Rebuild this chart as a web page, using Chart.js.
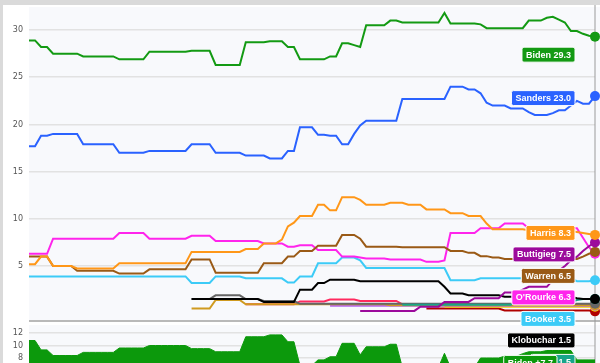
<!DOCTYPE html>
<html>
<head>
<meta charset="utf-8">
<script src="https://cdn.jsdelivr.net/npm/chart.js@4.4.1/dist/chart.umd.min.js"></script>
<style>
  html, body { margin: 0; padding: 0; overflow: hidden; background: #dadada; }
  #panel { position: absolute; left: 3px; top: 5px; width: 597px; height: 358px; background: #fff; }
  #wrap { position: absolute; left: 0; top: 0; width: 600px; height: 410px; }
</style>
</head>
<body>
<div id="panel"></div>
<div id="wrap"><canvas id="polls"></canvas></div>
<script>
// poll averages, one value per sample along the time axis
const biden = [
  28.9, 28.9, 28.2, 28.2, 27.5, 27.5, 27.5, 27.5, 27.5, 27.2,
  27.2, 27.2, 27.2, 27.2, 27.2, 26.9, 26.9, 26.9, 26.9, 26.9,
  27.7, 27.7, 27.7, 27.7, 27.7, 27.7, 27.7, 27.8, 27.8, 27.8,
  27.8, 26.3, 26.3, 26.3, 26.3, 26.3, 28.7, 28.7, 28.7, 28.7,
  28.8, 28.8, 28.8, 28.2, 28.2, 26.9, 26.9, 26.9, 26.9, 26.9,
  27.2, 27.2, 28.6, 28.6, 28.4, 28.2, 30.5, 30.5, 30.5, 30.5,
  31.0, 31.0, 30.8, 30.8, 30.8, 30.8, 30.8, 30.8, 30.8, 31.8,
  30.7, 30.7, 30.7, 30.7, 30.7, 30.6, 30.2, 30.2, 30.2, 30.2,
  30.2, 30.2, 30.2, 31.0, 31.0, 31.0, 31.3, 31.4, 31.1, 30.8,
  29.9, 29.9, 29.6, 29.4, 29.3
];
const sanders = [
  17.7, 17.7, 18.8, 18.8, 19.0, 19.0, 19.0, 19.0, 19.0, 17.9,
  17.9, 17.9, 17.9, 17.9, 17.9, 17.0, 17.0, 17.0, 17.0, 17.0,
  17.2, 17.2, 17.2, 17.2, 17.2, 17.2, 17.2, 17.9, 17.9, 17.9,
  17.9, 17.0, 17.0, 17.0, 17.0, 17.0, 16.7, 16.7, 16.7, 16.7,
  16.4, 16.4, 16.4, 17.2, 17.2, 19.7, 19.7, 19.7, 18.9, 18.9,
  18.8, 18.8, 17.9, 17.9, 19.0, 19.9, 20.4, 20.4, 20.4, 20.4,
  20.4, 20.4, 22.7, 22.7, 22.7, 22.7, 22.7, 22.7, 22.7, 22.7,
  24.0, 24.0, 24.0, 23.7, 23.7, 23.3, 22.3, 22.0, 22.0, 22.0,
  21.7, 21.7, 21.7, 21.3, 21.0, 21.0, 21.0, 21.2, 21.5, 21.5,
  22.0, 22.5, 22.2, 22.2, 23.0
];
const harris = [
  5.2, 5.2, 6.0, 6.0, 5.0, 5.0, 5.0, 5.0, 4.75, 4.75,
  4.75, 4.75, 4.75, 4.75, 4.75, 5.3, 5.3, 5.3, 5.3, 5.3,
  5.3, 5.3, 5.3, 5.3, 5.3, 5.3, 5.3, 6.5, 6.5, 6.5,
  6.5, 6.5, 6.5, 6.5, 6.5, 6.5, 6.8, 6.8, 6.8, 7.4,
  7.4, 7.4, 7.8, 9.2, 9.6, 10.3, 10.3, 10.3, 11.5, 11.5,
  10.9, 10.9, 12.3, 12.3, 12.3, 12.0, 11.5, 11.5, 11.5, 11.5,
  11.7, 11.7, 11.7, 11.5, 11.5, 11.5, 11.0, 11.0, 11.0, 11.0,
  10.6, 10.6, 10.6, 10.3, 10.3, 10.3, 9.5, 8.9, 8.9, 8.9,
  8.9, 8.9, 8.9, 8.8, 8.8, 8.8, 8.8, 8.7, 8.7, 8.7,
  8.7, 8.6, 8.5, 8.4, 8.3
];
const buttigieg = [
  null, null, null, null, null, null, null, null, null, null,
  null, null, null, null, null, null, null, null, null, null,
  null, null, null, null, null, null, null, null, null, null,
  null, null, null, null, null, null, null, null, null, null,
  null, null, null, null, null, null, null, null, null, null,
  null, null, null, null, null, 0.25, 0.25, 0.25, 0.25, 0.25,
  0.25, 0.25, 0.25, 0.25, 0.25, 0.7, 0.7, 0.7, 0.7, 1.2,
  1.2, 1.2, 1.2, 1.2, 1.6, 1.6, 1.6, 1.6, 1.6, 2.2,
  2.2, 2.2, 2.5, 2.8, 2.8, 2.8, 2.8, 3.5, 4.5, 5.0,
  5.6, 6.0, 6.6, 7.1, 7.5
];
const warren = [
  6.0, 6.0, 6.0, 6.0, 5.0, 5.0, 5.0, 5.0, 4.5, 4.5,
  4.5, 4.5, 4.5, 4.5, 4.5, 4.2, 4.2, 4.2, 4.2, 4.2,
  4.65, 4.65, 4.65, 4.65, 4.65, 4.65, 4.65, 5.7, 5.7, 5.7,
  5.7, 4.3, 4.3, 4.3, 4.3, 4.3, 4.3, 4.3, 4.3, 5.3,
  5.3, 5.3, 5.3, 6.0, 6.0, 6.6, 6.6, 6.6, 7.15, 7.15,
  7.15, 7.15, 8.3, 8.3, 8.3, 7.9, 7.05, 7.05, 7.05, 7.05,
  7.05, 7.05, 7.0, 7.0, 7.0, 7.0, 7.0, 7.0, 7.0, 7.0,
  6.6, 6.6, 6.6, 6.4, 6.4, 6.05, 6.05, 5.9, 5.9, 5.75,
  5.75, 5.75, 5.75, 5.75, 5.75, 5.75, 5.75, 5.75, 5.75, 5.75,
  5.75, 5.75, 6.0, 6.3, 6.5
];
const orourke = [
  6.3, 6.3, 6.3, 6.3, 7.9, 7.9, 7.9, 7.9, 7.9, 7.9,
  7.9, 7.9, 7.9, 7.9, 7.9, 8.5, 8.5, 8.5, 8.5, 8.5,
  7.9, 7.9, 7.9, 7.9, 7.9, 7.9, 7.9, 8.2, 8.2, 8.2,
  8.2, 7.65, 7.65, 7.65, 7.65, 7.65, 7.65, 7.65, 7.65, 7.4,
  7.4, 7.4, 7.4, 7.05, 7.05, 7.2, 7.2, 7.2, 6.7, 6.7,
  6.7, 6.7, 6.0, 6.0, 6.0, 5.9, 5.8, 5.8, 5.8, 5.8,
  5.7, 5.7, 5.7, 5.7, 5.7, 5.7, 5.45, 5.45, 5.45, 5.6,
  8.5, 8.5, 8.5, 8.5, 8.5, 9.0, 9.0, 9.0, 9.0, 9.5,
  9.5, 9.5, 9.5, 9.0, 9.0, 9.0, 9.0, 9.0, 9.0, 9.0,
  9.0, 9.0, 8.0, 7.0, 6.3
];
const booker = [
  3.9, 3.9, 3.9, 3.9, 3.9, 3.9, 3.9, 3.9, 3.9, 3.9,
  3.9, 3.9, 3.9, 3.9, 3.9, 3.9, 3.9, 3.9, 3.9, 3.9,
  3.9, 3.9, 3.9, 3.9, 3.9, 3.9, 3.9, 3.2, 3.2, 3.2,
  3.2, 3.9, 3.9, 3.9, 3.9, 3.9, 3.7, 3.7, 3.7, 3.7,
  3.7, 3.7, 3.7, 3.25, 3.25, 3.9, 3.9, 3.9, 5.3, 5.3,
  5.3, 5.3, 5.9, 5.9, 5.9, 5.6, 4.8, 4.8, 4.8, 4.8,
  4.8, 4.8, 4.8, 4.8, 4.8, 4.8, 4.8, 4.8, 4.8, 4.8,
  3.5, 3.5, 3.5, 3.5, 3.5, 3.7, 3.7, 3.7, 3.7, 3.7,
  3.7, 3.7, 3.7, 3.7, 3.7, 3.7, 3.7, 3.7, 3.7, 3.7,
  3.7, 3.4, 3.4, 3.4, 3.5
];
const klobuchar = [
  null, null, null, null, null, null, null, null, null, null,
  null, null, null, null, null, null, null, null, null, null,
  null, null, null, null, null, null, null, 1.5, 1.5, 1.5,
  1.5, 1.5, 1.5, 1.5, 1.5, 1.5, 1.5, 1.5, 1.5, 1.2,
  1.2, 1.2, 1.2, 1.2, 1.2, 2.5, 2.5, 2.5, 3.2, 3.2,
  3.55, 3.55, 3.55, 3.55, 3.55, 3.4, 3.4, 3.4, 3.4, 3.4,
  3.4, 3.4, 3.4, 3.4, 3.4, 3.4, 3.4, 3.4, 3.4, 2.8,
  2.1, 2.1, 2.1, 1.9, 1.9, 1.9, 1.9, 1.9, 1.9, 1.75,
  1.75, 1.75, 1.75, 1.75, 1.75, 1.75, 1.75, 1.75, 1.75, 1.75,
  1.75, 1.6, 1.5, 1.5, 1.5
];
const yang = [
  null, null, null, null, null, null, null, null, null, null,
  null, null, null, null, null, null, null, null, null, null,
  null, null, null, null, null, null, null, null, null, null,
  null, null, null, null, null, null, null, null, null, null,
  null, null, null, null, null, null, null, null, null, null,
  null, null, null, null, null, null, null, null, null, null,
  null, null, 0.9, 0.9, 0.9, 0.9, 0.9, 0.9, 0.9, 0.9,
  0.9, 0.9, 0.9, 0.9, 0.9, 0.9, 0.9, 0.9, 0.9, 0.9,
  0.9, 1.2, 1.2, 1.2, 1.2, 1.2, 1.2, 1.2, 1.2, 1.2,
  1.2, 1.4, 1.5, 1.5, 1.5
];
const gillibrand = [
  null, null, null, null, null, null, null, null, null, null,
  null, null, null, null, null, null, null, null, null, null,
  null, null, null, null, null, null, null, 1.5, 1.5, 1.5,
  1.5, 1.9, 1.9, 1.9, 1.9, 1.9, 1.5, 1.5, 1.5, 1.3,
  1.3, 1.3, 1.3, 1.3, 1.3, 1.0, 1.0, 1.0, 1.0, 1.0,
  1.0, 1.0, 1.0, 1.0, 1.0, 1.0, 1.0, 1.0, 1.0, 1.0,
  1.0, 1.0, 1.0, 1.0, 1.0, 1.0, 1.0, 1.0, 1.0, 1.0,
  1.0, 1.0, 1.0, 1.0, 1.0, 1.0, 1.0, 1.0, 1.0, 1.0,
  1.0, 1.0, 1.0, 1.0, 1.0, 1.0, 1.0, 1.0, 1.0, 1.0,
  1.0, 1.0, 1.0, 1.0, 1.0
];
const castro = [
  null, null, null, null, null, null, null, null, null, null,
  null, null, null, null, null, null, null, null, null, null,
  null, null, null, null, null, null, null, 0.5, 0.5, 0.5,
  0.5, 1.4, 1.4, 1.4, 1.4, 1.4, 0.95, 0.95, 0.95, 0.95,
  0.95, 0.95, 0.95, 0.95, 0.95, 0.95, 0.95, 0.95, 0.95, 0.95,
  0.95, 0.95, 0.95, 0.95, 0.95, 0.95, 0.95, 0.95, 0.95, 0.95,
  0.85, 0.85, 0.85, 0.85, 0.85, 0.85, 0.85, 0.85, 0.85, 0.85,
  0.85, 0.85, 0.85, 0.85, 0.85, 0.85, 0.85, 0.85, 0.85, 0.85,
  0.85, 0.85, 0.85, 0.85, 0.85, 0.85, 0.85, 0.85, 0.85, 0.85,
  0.85, 0.85, 0.85, 0.85, 0.85
];
const gabbard = [
  null, null, null, null, null, null, null, null, null, null,
  null, null, null, null, null, null, null, null, null, null,
  null, null, null, null, null, null, null, null, null, null,
  null, null, null, null, null, null, 0.95, 0.95, 0.95, 0.95,
  0.95, 0.95, 0.95, 0.95, 0.95, 1.25, 1.25, 1.25, 1.25, 1.25,
  1.45, 1.45, 1.45, 1.45, 1.45, 1.3, 1.3, 1.3, 1.3, 1.3,
  1.3, 1.3, 0.95, 0.95, 0.95, 0.95, 0.95, 0.95, 0.95, 0.95,
  0.95, 0.95, 0.95, 0.95, 0.95, 0.95, 0.95, 0.95, 0.95, 0.95,
  0.95, 0.95, 0.95, 0.95, 0.95, 0.95, 0.95, 0.95, 0.95, 0.95,
  0.95, 0.9, 0.9, 0.9, 0.9
];
const inslee = [
  null, null, null, null, null, null, null, null, null, null,
  null, null, null, null, null, null, null, null, null, null,
  null, null, null, null, null, null, null, null, null, null,
  null, null, null, null, null, null, null, null, null, null,
  null, null, null, null, null, null, null, null, null, null,
  0.8, 0.8, 0.8, 0.8, 0.8, 0.8, 0.8, 0.8, 0.8, 0.8,
  0.8, 0.8, 0.8, 0.8, 0.8, 0.8, 0.8, 0.8, 0.8, 0.8,
  0.8, 0.8, 0.8, 0.8, 0.8, 0.8, 0.8, 0.8, 0.8, 0.8,
  0.8, 0.8, 0.8, 0.8, 0.8, 0.8, 0.8, 0.8, 0.8, 0.8,
  0.8, 0.8, 0.8, 0.8, 0.8
];
const hickenlooper = [
  null, null, null, null, null, null, null, null, null, null,
  null, null, null, null, null, null, null, null, null, null,
  null, null, null, null, null, null, null, null, null, null,
  null, null, null, null, null, null, null, null, null, null,
  null, null, null, null, null, null, null, null, null, null,
  null, null, null, null, null, null, null, null, null, null,
  null, null, null, null, null, null, null, null, null, 0.7,
  0.7, 0.7, 0.7, 0.7, 0.7, 0.7, 0.7, 0.7, 0.7, 0.7,
  0.7, 0.7, 0.7, 0.7, 0.7, 0.7, 0.7, 0.7, 0.7, 0.7,
  0.7, 0.7, 0.7, 0.7, 0.7
];
const delaney = [
  null, null, null, null, null, null, null, null, null, null,
  null, null, null, null, null, null, null, null, null, null,
  null, null, null, null, null, null, null, null, null, null,
  null, null, null, null, null, null, null, null, null, null,
  null, null, null, null, null, null, null, null, null, null,
  null, null, null, null, null, null, null, null, null, null,
  null, null, null, null, null, null, 0.5, 0.5, 0.5, 0.5,
  0.5, 0.5, 0.5, 0.5, 0.5, 0.5, 0.5, 0.5, 0.5, 0.3,
  0.3, 0.3, 0.3, 0.3, 0.3, 0.3, 0.3, 0.3, 0.3, 0.3,
  0.3, 0.3, 0.3, 0.3, 0.2
];
// Biden's lead over the field (lower panel)
const lead = [
  10.8, 10.8, 9.3, 9.3, 8.4, 8.4, 8.4, 8.4, 8.4, 8.9,
  8.9, 8.9, 8.9, 8.9, 8.9, 9.6, 9.6, 9.6, 9.6, 9.6,
  10.0, 10.0, 10.0, 10.0, 10.0, 10.0, 10.0, 9.5, 9.5, 9.5,
  9.5, 9.0, 9.0, 9.0, 9.0, 9.0, 11.4, 11.4, 11.4, 11.4,
  11.7, 11.7, 11.7, 10.6, 10.6, 6.8, 6.8, 6.8, 7.7, 7.7,
  8.2, 8.2, 10.35, 10.35, 10.35, 8.5, 9.8, 9.8, 9.8, 9.8,
  10.2, 10.2, 6.5, 6.5, 6.5, 6.5, 6.5, 6.5, 6.5, 8.75,
  6.5, 6.5, 6.5, 6.5, 6.5, 8.0, 8.0, 8.0, 8.0, 8.3,
  8.3, 8.3, 8.7, 9.0, 9.0, 9.0, 9.2, 9.2, 9.2, 9.2,
  9.2, 7.7, 7.7, 7.7, 7.7
];
const days = biden.map((_, i) => i);

const lines = [
  { name: 'Biden', data: biden, color: '#139a13', tag: 20 },
  { name: 'Sanders', data: sanders, color: '#2a62ff', tag: 4 },
  { name: 'Harris', data: harris, color: '#ff9718', tag: 0 },
  { name: 'Buttigieg', data: buttigieg, color: '#9c0a9c', tag: 0 },
  { name: 'Warren', data: warren, color: '#9a5a16', tag: 0 },
  { name: "O'Rourke", data: orourke, color: '#ff24ec', tag: 0 },
  { name: 'Booker', data: booker, color: '#3ccbf7', tag: 0 },
  { name: 'Klobuchar', data: klobuchar, color: '#000000', tag: 0 },
  { name: 'Yang', data: yang, color: '#18a58a', tag: 0 },
  { name: 'Gillibrand', data: gillibrand, color: '#666666' },
  { name: 'Castro', data: castro, color: '#cf9a1f' },
  { name: 'Gabbard', data: gabbard, color: '#ff2a5f' },
  { name: 'Inslee', data: inslee, color: '#b563f2' },
  { name: 'Hickenlooper', data: hickenlooper, color: '#f2cf00' },
  { name: 'Delaney', data: delaney, color: '#b00000' }
];
const leadColor = '#0c990c';

/* backgrounds, separator and "today" line */
const frame = {
  id: 'frame',
  beforeDraw(chart) {
    const { ctx, width, scales: { y, y2 } } = chart;
    ctx.save();
    ctx.fillStyle = '#f8f9fc';
    ctx.fillRect(y.right, y.top, width - y.right, y.bottom - y.top);
    ctx.fillRect(y2.right, y2.top + 4, width - y2.right, y2.bottom - y2.top - 4);
    ctx.restore();
  },
  beforeDatasetsDraw(chart) {
    const { ctx, width, chartArea, scales: { x, y } } = chart;
    ctx.save();
    ctx.strokeStyle = '#b9b9b9';
    ctx.lineWidth = 2;
    ctx.beginPath();
    ctx.moveTo(chartArea.left, y.bottom);
    ctx.lineTo(width, y.bottom);
    ctx.stroke();
    const tx = x.getPixelForValue(days.length - 1);
    ctx.strokeStyle = '#9a9a9a';
    ctx.lineWidth = 1;
    ctx.beginPath();
    ctx.moveTo(tx, chartArea.top - 2);
    ctx.lineTo(tx, chartArea.bottom);
    ctx.stroke();
    ctx.restore();
  }
};

/* name + last value boxes at the right */
const endTags = {
  id: 'endTags',
  afterDatasetsDraw(chart) {
    const { ctx, scales } = chart;
    const right = 575;
    ctx.save();
    ctx.font = 'bold 9px "Liberation Sans", Arial, sans-serif';
    ctx.textBaseline = 'middle';
    ctx.textAlign = 'left';
    const tag = (text, color, cy, r) => {
      const w = ctx.measureText(text).width + 8;
      ctx.beginPath();
      ctx.roundRect(r - w, cy - 7.5, w, 15, 2);
      ctx.fillStyle = color;
      ctx.fill();
      ctx.strokeStyle = '#fff';
      ctx.lineWidth = 1;
      ctx.stroke();
      ctx.fillStyle = '#fff';
      ctx.fillText(text, r - w + 4, cy + 0.5);
    };
    let prev = -Infinity;
    lines.filter(l => l.tag !== undefined).forEach(l => {
      const v = l.data[l.data.length - 1];
      let cy = scales.y.getPixelForValue(v) - 2 + l.tag;
      cy = Math.max(cy, prev + 21.5);
      prev = cy;
      tag(l.name + ' ' + v.toFixed(1), l.color, cy, right);
    });
    const lv = lead[lead.length - 1];
    tag('Biden +' + lv.toFixed(1), leadColor, scales.y2.getPixelForValue(lv) + 3, right - 18);
    ctx.restore();
  }
};

const datasets = lines.map(l => ({
  label: l.name,
  data: l.data,
  yAxisID: 'y',
  borderColor: l.color,
  backgroundColor: l.color,
  borderWidth: 2,
  pointRadius: ctx => ctx.dataIndex === days.length - 1 ? 5 : 0,
  pointBorderWidth: 0,
  clip: false
}));
datasets.push({
  label: 'Lead',
  data: lead,
  yAxisID: 'y2',
  borderColor: leadColor,
  backgroundColor: leadColor,
  borderWidth: 1,
  pointRadius: 0,
  fill: 'origin'
});

const tickFont = { family: 'DejaVu Sans', size: 8 };
// fixed axis width and no label overhang, so the plot area is exactly the padded box
const fitAxis = s => { s.width = 25; s.paddingTop = 0; s.paddingBottom = 0; };

new Chart(document.getElementById('polls'), {
  type: 'line',
  data: { labels: days, datasets },
  plugins: [frame, endTags],
  options: {
    responsive: true,
    maintainAspectRatio: false,
    animation: false,
    layout: { padding: { left: 4, right: 5, top: 7, bottom: 2 }, autoPadding: false },
    elements: { line: { tension: 0 } },
    plugins: { legend: { display: false }, tooltip: { enabled: false } },
    scales: {
      x: { display: false },
      y2: {
        stack: 'polls',
        stackWeight: 87,
        min: 0,
        max: 13.92,
        afterFit: fitAxis,
        afterBuildTicks: s => { s.ticks = s.ticks.filter(t => t.value > 0 && t.value <= 12); },
        border: { display: false },
        grid: { color: '#e2e2e2', lineWidth: 1.5, drawTicks: false },
        ticks: { stepSize: 2, includeBounds: false, autoSkip: false, padding: 6, color: '#555', font: tickFont }
      },
      y: {
        stack: 'polls',
        stackWeight: 314,
        min: -0.82,
        max: 32.44,
        afterFit: fitAxis,
        afterBuildTicks: s => { s.ticks = s.ticks.filter(t => t.value >= 5 && t.value % 5 === 0); },
        border: { display: false },
        grid: { color: '#e2e2e2', lineWidth: 1.5, drawTicks: false },
        ticks: { stepSize: 5, includeBounds: false, autoSkip: false, padding: 6, color: '#555', font: tickFont }
      }
    }
  }
});
</script>
</body>
</html>
